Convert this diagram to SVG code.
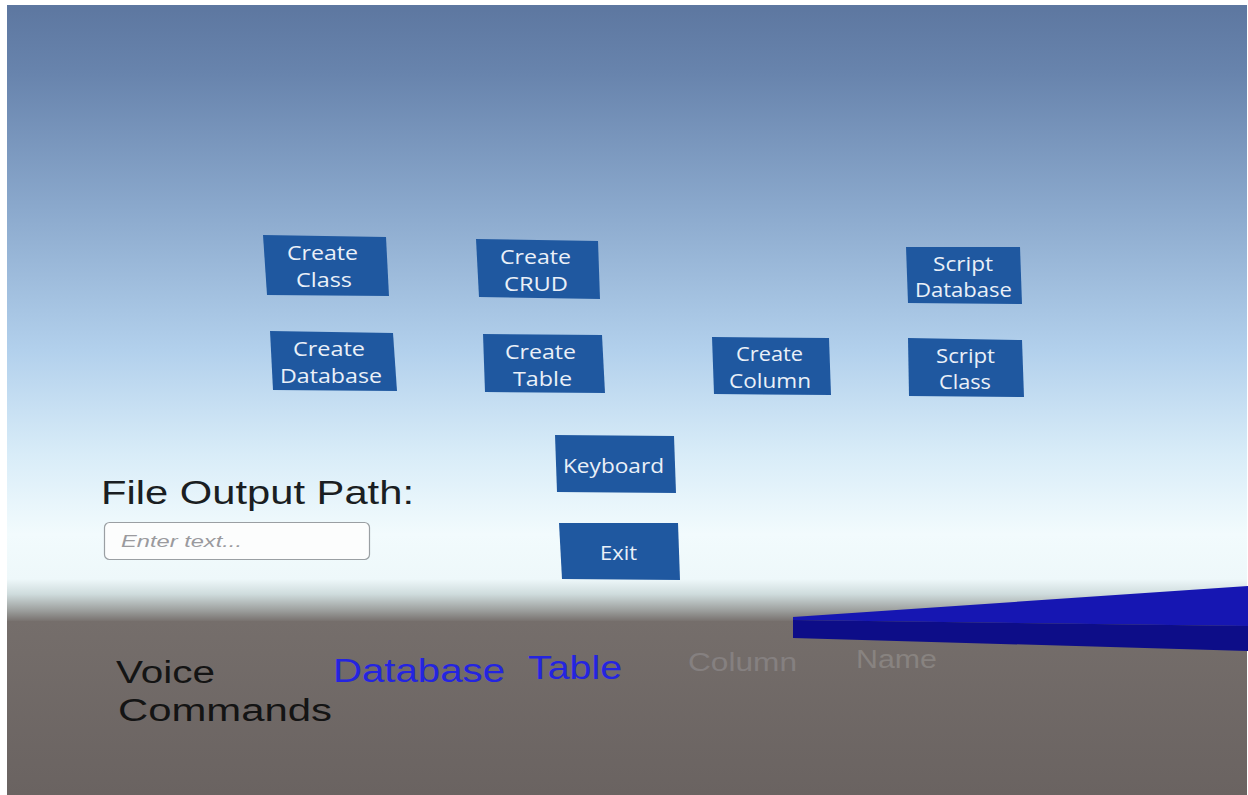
<svg xmlns="http://www.w3.org/2000/svg" width="1248" height="795" viewBox="0 0 1248 795">
  <defs>
    <linearGradient id="sky" x1="0" y1="0" x2="0" y2="1">
      <stop offset="0" stop-color="#5d77a0"/>
      <stop offset="0.12" stop-color="#6884ad"/>
      <stop offset="0.35" stop-color="#8aa8cc"/>
      <stop offset="0.6" stop-color="#b2d0ec"/>
      <stop offset="0.78" stop-color="#d8ecf8"/>
      <stop offset="0.92" stop-color="#f2fbfd"/>
      <stop offset="1" stop-color="#eef8fa"/>
    </linearGradient>
    <linearGradient id="haze" x1="0" y1="0" x2="0" y2="1">
      <stop offset="0" stop-color="#eef8fa"/>
      <stop offset="0.35" stop-color="#cfdcdd"/>
      <stop offset="0.75" stop-color="#9a9c9a"/>
      <stop offset="1" stop-color="#756e6b"/>
    </linearGradient>
    <linearGradient id="ground" x1="0" y1="0" x2="0" y2="1">
      <stop offset="0" stop-color="#756e6b"/>
      <stop offset="1" stop-color="#6a6361"/>
    </linearGradient>
    <style>
      .btn { fill: #1f58a0; }
      .lbl { font-family: "Open Sans", "Noto Sans", sans-serif; font-size: 20.5px; fill: #eaf0f8; text-anchor: middle; }
      .big { font-family: "Liberation Sans", Arial, sans-serif; }
    </style>
  </defs>

  <!-- frame -->
  <rect x="0" y="0" width="1248" height="795" fill="#ffffff"/>

  <!-- sky, horizon and ground -->
  <g id="scene">
    <rect x="7" y="5" width="1240" height="575" fill="url(#sky)"/>
    <rect x="7" y="579" width="1240" height="43" fill="url(#haze)"/>
    <rect x="7" y="621" width="1240" height="174" fill="url(#ground)"/>
  </g>

  <!-- blue slab on the ground -->
  <g id="slab">
    <polygon points="793,617 1248,586 1248,626 793,620" fill="#1616b2"/>
    <polygon points="793,620 1248,626 1248,651 793,638" fill="#0d0d88"/>
  </g>

  <!-- menu buttons -->
  <g id="btn-create-class">
    <polygon class="btn" points="263,235 386,237 389,296 267,295"/>
    <text class="lbl" x="322.5" y="260" textLength="71" lengthAdjust="spacingAndGlyphs">Create</text>
    <text class="lbl" x="324" y="287" textLength="56" lengthAdjust="spacingAndGlyphs">Class</text>
  </g>
  <g id="btn-create-crud">
    <polygon class="btn" points="476,239 598,241 600,299 479,297"/>
    <text class="lbl" x="535.5" y="264" textLength="71" lengthAdjust="spacingAndGlyphs">Create</text>
    <text class="lbl" x="536" y="291" textLength="64" lengthAdjust="spacingAndGlyphs">CRUD</text>
  </g>
  <g id="btn-script-database">
    <polygon class="btn" points="906,247 1020,247 1022,304 908,303"/>
    <text class="lbl" x="963" y="271" textLength="60" lengthAdjust="spacingAndGlyphs">Script</text>
    <text class="lbl" x="963.5" y="297" textLength="97" lengthAdjust="spacingAndGlyphs">Database</text>
  </g>
  <g id="btn-create-database">
    <polygon class="btn" points="270,331 393,333 397,391 273,390"/>
    <text class="lbl" x="329" y="356" textLength="72" lengthAdjust="spacingAndGlyphs">Create</text>
    <text class="lbl" x="331" y="383" textLength="102" lengthAdjust="spacingAndGlyphs">Database</text>
  </g>
  <g id="btn-create-table">
    <polygon class="btn" points="483,334 602,335 605,393 485,392"/>
    <text class="lbl" x="540.5" y="359" textLength="71" lengthAdjust="spacingAndGlyphs">Create</text>
    <text class="lbl" x="542.5" y="386" textLength="59" lengthAdjust="spacingAndGlyphs">Table</text>
  </g>
  <g id="btn-create-column">
    <polygon class="btn" points="712,337 829,338 831,395 714,394"/>
    <text class="lbl" x="769.5" y="361" textLength="67" lengthAdjust="spacingAndGlyphs">Create</text>
    <text class="lbl" x="770" y="388" textLength="82" lengthAdjust="spacingAndGlyphs">Column</text>
  </g>
  <g id="btn-script-class">
    <polygon class="btn" points="908,338 1022,340 1024,397 909,396"/>
    <text class="lbl" x="965.5" y="363" textLength="59" lengthAdjust="spacingAndGlyphs">Script</text>
    <text class="lbl" x="965" y="389" textLength="52" lengthAdjust="spacingAndGlyphs">Class</text>
  </g>
  <g id="btn-keyboard">
    <polygon class="btn" points="555,435 674,436 676,493 557,492"/>
    <text class="lbl" x="613.5" y="473" textLength="101" lengthAdjust="spacingAndGlyphs">Keyboard</text>
  </g>
  <g id="btn-exit">
    <polygon class="btn" points="559,523 678,523 680,580 562,579"/>
    <text class="lbl" x="618.5" y="560" textLength="37" lengthAdjust="spacingAndGlyphs">Exit</text>
  </g>

  <!-- output path input -->
  <g id="output-path">
    <text class="big" x="101" y="504" font-size="33" fill="#1a1e22" textLength="313" lengthAdjust="spacingAndGlyphs">File Output Path:</text>
    <rect x="104.5" y="522.5" width="265" height="37" rx="5" fill="#fcfdfd" stroke="#9a9fa3" stroke-width="1.2"/>
    <text class="big" x="121" y="547" font-size="17" font-style="italic" fill="#9a9a9e" textLength="121" lengthAdjust="spacingAndGlyphs">Enter text...</text>
  </g>

  <!-- voice command hints -->
  <g id="voice-commands">
    <text class="big" x="116" y="683" font-size="31" fill="#141414" textLength="99" lengthAdjust="spacingAndGlyphs">Voice</text>
    <text class="big" x="118" y="721" font-size="31" fill="#141414" textLength="214" lengthAdjust="spacingAndGlyphs">Commands</text>
    <text class="big" x="333" y="682" font-size="33" fill="#2424e0" textLength="172" lengthAdjust="spacingAndGlyphs">Database</text>
    <text class="big" x="528" y="679" font-size="33" fill="#2424e0" textLength="94" lengthAdjust="spacingAndGlyphs">Table</text>
    <text class="big" x="688" y="671" font-size="26" fill="#858080" textLength="109" lengthAdjust="spacingAndGlyphs">Column</text>
    <text class="big" x="856" y="668" font-size="26" fill="#888380" textLength="81" lengthAdjust="spacingAndGlyphs">Name</text>
  </g>
</svg>
